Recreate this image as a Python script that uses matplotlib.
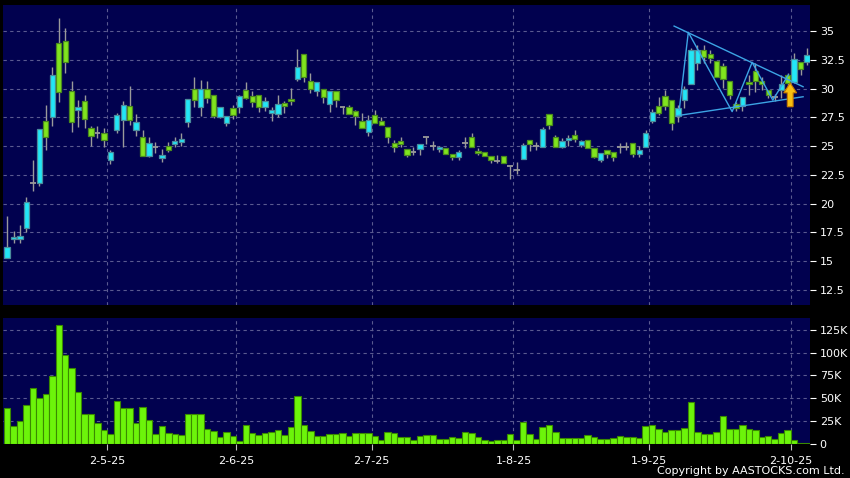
import matplotlib
matplotlib.use("Agg")
import matplotlib.pyplot as plt
from matplotlib.patches import FancyArrow
import numpy as np

# ---------------- data ----------------
opens = [15.25, 16.90, 16.96, 17.91, 21.80, 21.82, 27.15, 27.50, 33.93, 34.10, 29.76, 28.11, 28.89, 26.54, 26.17, 26.17,
         23.76, 26.37, 27.27, 28.45, 26.37, 25.76, 24.14, 24.89, 23.94, 24.98, 25.15, 25.39, 27.07, 29.93, 28.43, 29.93,
         29.47, 27.56, 26.98, 28.28, 28.37, 29.88, 29.38, 29.41, 28.37, 27.85, 27.76, 28.72, 29.09, 30.80, 32.97, 30.63,
         29.76, 29.93, 28.69, 29.76, 28.43, 28.37, 28.05, 27.21, 26.25, 27.73, 27.15, 26.63, 25.30, 25.42, 24.75, 24.52,
         24.72, 25.82, 25.04, 24.72, 24.83, 24.31, 24.02, 25.24, 25.79, 24.57, 24.52, 24.11, 23.73, 24.11, 23.27, 22.95,
         23.91, 25.53, 25.04, 24.95, 27.79, 25.76, 24.95, 25.50, 25.96, 25.07, 25.53, 24.81, 23.79, 24.66, 24.46, 24.95,
         24.95, 25.24, 24.29, 24.95, 27.21, 28.45, 29.38, 28.98, 27.62, 29.00, 30.40, 32.19, 33.35, 32.97, 32.42, 31.99,
         30.69, 28.66, 28.48, 30.57, 31.55, 30.66, 29.87, 29.30, 29.87, 31.18, 30.60, 32.28, 32.34]
highs = [18.93, 17.62, 18.12, 20.55, 23.79, 26.46, 28.57, 31.90, 36.13, 35.26, 30.66, 29.00, 29.41, 26.75, 26.75, 26.54,
         24.66, 27.85, 28.92, 30.22, 27.79, 26.40, 25.82, 25.39, 24.72, 25.39, 25.82, 26.11, 29.12, 30.97, 30.74, 30.66,
         29.47, 28.37, 27.62, 28.57, 29.44, 30.60, 29.82, 29.41, 29.30, 28.37, 29.44, 28.92, 30.02, 33.41, 32.97, 31.32,
         30.54, 29.93, 29.76, 29.76, 28.43, 28.57, 28.14, 27.85, 27.70, 28.14, 27.56, 26.63, 25.53, 25.82, 24.75, 24.95,
         25.18, 25.82, 25.44, 25.04, 24.83, 24.31, 24.66, 25.76, 26.11, 24.81, 24.52, 24.11, 24.23, 24.11, 23.27, 23.59,
         25.24, 25.53, 25.39, 26.69, 27.79, 25.96, 25.67, 25.96, 26.40, 25.53, 25.53, 24.81, 24.43, 24.66, 24.46, 25.24,
         25.39, 25.24, 25.04, 26.40, 28.25, 29.24, 29.87, 28.98, 28.57, 30.22, 33.50, 33.78, 33.78, 33.35, 32.42, 32.19,
         30.69, 28.80, 29.24, 31.18, 32.19, 31.03, 29.87, 29.50, 31.18, 31.32, 33.12, 32.28, 33.49]
lows = [15.25, 16.55, 16.55, 17.57, 21.13, 21.56, 24.66, 26.75, 28.86, 31.38, 26.25, 26.69, 26.60, 25.04, 25.70, 24.95,
        23.47, 26.11, 24.95, 26.83, 25.91, 24.14, 24.08, 24.43, 23.59, 24.52, 24.95, 25.01, 26.69, 28.43, 27.64, 28.72,
        27.41, 27.41, 26.78, 27.36, 27.90, 29.06, 28.37, 27.99, 28.08, 27.21, 27.50, 27.90, 28.57, 30.66, 30.60, 29.64,
        29.35, 28.77, 27.99, 28.43, 27.79, 27.76, 26.83, 26.60, 25.91, 26.98, 26.86, 25.24, 24.52, 24.89, 24.08, 24.23,
        24.23, 25.18, 24.66, 24.52, 24.29, 23.79, 23.79, 24.81, 24.89, 24.23, 24.17, 23.56, 23.50, 23.50, 22.17, 22.58,
        23.91, 24.60, 24.66, 24.95, 26.51, 24.89, 24.81, 25.04, 25.39, 24.95, 24.81, 23.94, 23.65, 23.94, 23.73, 24.43,
        24.66, 24.02, 24.08, 24.95, 27.04, 27.70, 28.14, 26.40, 27.12, 28.28, 30.40, 31.61, 32.19, 32.19, 30.97, 30.02,
        29.06, 28.08, 28.05, 29.44, 29.73, 29.87, 29.15, 28.95, 29.15, 30.16, 30.50, 31.18, 32.05]
closes = [16.20, 17.13, 17.16, 20.11, 21.80, 26.46, 25.76, 31.15, 29.67, 32.28, 27.12, 28.37, 27.33, 25.85, 26.17, 25.50,
          24.46, 27.67, 28.54, 27.24, 27.07, 24.14, 25.30, 24.89, 24.20, 24.63, 25.42, 25.59, 29.12, 29.00, 29.93, 29.15,
          27.64, 28.37, 27.62, 27.73, 29.35, 29.15, 28.86, 28.37, 28.89, 28.11, 28.63, 28.51, 28.89, 31.90, 30.97, 29.99,
          30.54, 29.30, 29.76, 29.03, 28.43, 27.76, 27.64, 26.60, 27.24, 26.98, 26.86, 25.76, 24.89, 25.15, 24.20, 24.52,
          25.18, 25.82, 25.04, 24.92, 24.29, 24.02, 24.46, 25.24, 24.89, 24.37, 24.17, 23.82, 23.73, 23.56, 23.27, 22.95,
          25.07, 25.15, 25.04, 26.46, 26.80, 24.95, 25.44, 25.70, 25.59, 25.42, 24.81, 24.02, 24.37, 24.29, 24.08, 24.95,
          24.95, 24.31, 24.63, 26.11, 27.93, 27.90, 28.48, 27.04, 28.28, 29.93, 33.35, 33.35, 32.71, 32.63, 31.03, 30.80,
          29.44, 28.31, 29.24, 30.40, 30.69, 30.37, 29.44, 29.30, 30.40, 30.45, 32.54, 31.67, 32.91]
volumes_k = [39.7, 19.9, 25.7, 42.6, 60.7, 50.7, 54.4, 74.3, 130.1, 97.8, 83.1, 56.6, 32.3, 32.3, 22.8, 15.8, 10.7,
             47.1, 39.7, 39.7, 23.2,
             40.8, 26.1, 11.0, 20.2, 12.5, 10.7, 10.3, 32.3, 32.7, 32.3, 16.9, 14.7, 8.1, 13.2, 8.5, 3.7, 21.3, 12.1,
             9.6, 12.1, 13.6,
             15.4, 9.9, 19.1, 52.9, 21.0, 14.3, 8.5, 8.5, 11.4, 11.0, 12.5, 9.2, 12.1, 11.8, 12.5, 9.2, 4.4, 13.6, 12.1,
             7.7, 7.4,
             4.4, 8.8, 9.6, 10.3, 5.1, 5.1, 7.7, 6.6, 13.2, 12.5, 7.7, 4.0, 3.3, 4.8, 4.4, 11.0, 4.8, 24.6, 10.7, 5.5,
             18.7,
             21.0, 12.9, 6.6, 6.6, 7.0, 6.6, 10.3, 7.7, 5.1, 5.1, 6.2, 8.8, 8.1, 8.1, 6.6, 20.2, 21.3, 16.9, 12.9, 15.8,
             15.8,
             17.6, 46.3, 13.6, 11.0, 11.0, 13.6, 30.1, 16.5, 16.5, 21.3, 16.9, 15.4, 8.1, 8.5, 5.1, 12.1, 15.8, 4.4, 1.5,
             1.5]

month_labels = ["2-5-25", "2-6-25", "2-7-25", "1-8-25", "1-9-25", "2-10-25"]
month_start_idx = [16, 36, 57, 79, 100, 122]

price_ticks = [12.5, 15, 17.5, 20, 22.5, 25, 27.5, 30, 32.5, 35]
price_tick_labels = ["12.5", "15", "17.5", "20", "22.5", "25", "27.5", "30", "32.5", "35"]
vol_ticks_k = [0, 25, 50, 75, 100, 125]
vol_tick_labels = ["0", "25K", "50K", "75K", "100K", "125K"]

# drawn pattern annotations (bar index, price)
tri_upper = ([103.4, 123.4], [35.43, 30.16])
tri_lower = ([103.8, 123.4], [27.64, 29.29])
zigzag = ([104.2, 105.6, 112.4, 115.5, 118.7, 121.1], [28.14, 34.89, 28.00, 32.28, 29.00, 31.18])
arrow_x, arrow_y0, arrow_y1 = 121.4, 28.42, 30.48

# ---------------- style ----------------
BG = '#01014f'
CYAN = '#22e6f6'
CYAN_EDGE = '#4a8c9c'
GREEN = '#80e41e'
GREEN_EDGE = '#4a8a1e'
WICK = '#9a9a9a'
GRID = '#5a5a90'
VOL = '#6cf40a'
VOL_EDGE = '#3a8a00'
LINE = '#3ca4e4'

plt.rcParams['font.family'] = ['DejaVu Sans']

n = len(opens)
x = np.arange(n)
o = np.array(opens); h = np.array(highs); l = np.array(lows); c = np.array(closes)
v = np.array(volumes_k)

fig = plt.figure(figsize=(8.5, 4.78), dpi=100, facecolor='black')
ax1 = fig.add_axes([3/850, 173/478, 807/850, 300/478])
ax2 = fig.add_axes([3/850, 34/478, 807/850, 126/478])

xlim = (-0.64, 124.47)
grid_x = [i - 0.5 for i in month_start_idx]

for ax in (ax1, ax2):
    ax.set_facecolor(BG)
    for s in ax.spines.values():
        s.set_visible(False)
    ax.set_xlim(*xlim)
    for gx in grid_x:
        ax.axvline(gx, color=GRID, lw=0.8, ls=(0, (3, 3)), zorder=0.5)
    ax.yaxis.tick_right()
    ax.tick_params(axis='y', colors='white', labelcolor='white', length=4, width=0.8,
                   pad=3, labelsize=8)

# upper panel
ax1.set_ylim(11.2, 37.26)
ax1.set_yticks(price_ticks)
ax1.set_yticklabels(price_tick_labels)
for py in price_ticks:
    ax1.axhline(py, color=GRID, lw=0.8, ls=(0, (3, 3)), zorder=0.5)
ax1.set_xticks([])

# wicks
ax1.vlines(x, l, h, color=WICK, lw=1.0, zorder=2)
up = c > o
down = c < o
flat = c == o
ax1.bar(x[up], (c - o)[up], bottom=o[up], width=0.82, color=CYAN, edgecolor=CYAN_EDGE,
        linewidth=0.9, zorder=3)
ax1.bar(x[down], (o - c)[down], bottom=c[down], width=0.82, color=GREEN, edgecolor=GREEN_EDGE,
        linewidth=0.9, zorder=3)
ax1.hlines(c[flat], x[flat] - 0.45, x[flat] + 0.45, color=WICK, lw=1.3, zorder=3)

# pattern lines
ax1.plot(*tri_upper, color=LINE, lw=1.0, zorder=4)
ax1.plot(*tri_lower, color=LINE, lw=1.0, zorder=4)
ax1.plot(*zigzag, color=LINE, lw=1.0, zorder=4)
ax1.add_patch(FancyArrow(arrow_x, arrow_y0, 0, arrow_y1 - arrow_y0, width=0.9, head_width=2.0,
                         head_length=0.85, length_includes_head=True, facecolor='#f8c010',
                         edgecolor='#c87800', linewidth=0.8, zorder=5))

# lower panel
ax2.set_ylim(0, 137.8)
ax2.set_yticks(vol_ticks_k)
ax2.set_yticklabels(vol_tick_labels)
for vy in vol_ticks_k[1:]:
    ax2.axhline(vy, color=GRID, lw=0.8, ls=(0, (3, 3)), zorder=0.5)
ax2.bar(x, v, width=1.0, color=VOL, edgecolor=VOL_EDGE, linewidth=0.8, zorder=2)
ax2.set_xticks(grid_x)
ax2.set_xticklabels(month_labels)
ax2.tick_params(axis='x', colors='#c0c0c0', labelcolor='white', length=4, width=0.8,
                pad=5, labelsize=8)

fig.text(845/850, 1 - 471/478, "Copyright by AASTOCKS.com Ltd.", color='white', fontsize=8,
         ha='right', va='center')

fig.savefig("out.png", dpi=100, facecolor='black')
